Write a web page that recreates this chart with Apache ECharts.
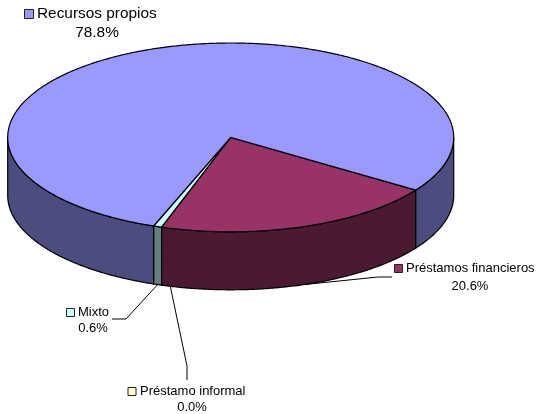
<!DOCTYPE html>
<html><head><meta charset="utf-8">
<style>html,body{margin:0;padding:0;background:#fff}#c{width:537px;height:414px}</style>
<script src="https://cdn.jsdelivr.net/npm/echarts@6/dist/echarts.min.js"></script>
</head><body><div id="c"></div>
<script>
// Data (slices in clockwise drawing order)
var categories = ['Préstamos financieros', 'Préstamo informal', 'Mixto', 'Recursos propios'];
var values = [20.6, 0.0, 0.6, 78.8];
var valueLabels = ['20.6%', '0.0%', '0.6%', '78.8%'];

// Styles and layout
var topColors = ['#993366', '#FFFFCC', '#CCFFFF', '#9999FF'];
var sideColors = ['#4C1933', '#80805F', '#668080', '#4C4C7F'];
var PIE = {cx: 230.7, cy: 137.4, rx: 223, ry: 94.4, depth: 58, start: 33.9};
var FONT = 'Arial, "Liberation Sans", sans-serif';
var labelLayout = [
  {x: 470, y: 268.5, lh: 17.5, size: 13, keyX: 394, keyY: 264, key: 8, startDx: 0, leader: [[378, 277], [392, 277]], textX: 406},
  {x: 192, y: 391.5, lh: 16, size: 13, keyX: 127.5, keyY: 387, key: 8, startDx: 8.5, leader: [[187, 366], [187, 380]], textX: 140},
  {x: 93, y: 312, lh: 16, size: 13, keyX: 66, keyY: 308, key: 8, startDx: 0, leader: [[126, 319], [112, 319]], textX: 78},
  {x: 97, y: 14, lh: 19, size: 15.4, keyX: 24, keyY: 9, key: 9, startDx: 0, leader: null, textX: 37}
];

var total = values.reduce(function (a, b) { return a + b; }, 0);
var spans = [];
(function () {
  var a = PIE.start;
  values.forEach(function (v) {
    var s = v / total * 360;
    spans.push([a, a + s]);
    a += s;
  });
})();

function pt(deg, dy) {
  var r = deg * Math.PI / 180;
  return [PIE.cx + PIE.rx * Math.cos(r), PIE.cy + PIE.ry * Math.sin(r) + (dy || 0)];
}
function arc(a0, a1, dy) {
  var out = [], n = Math.max(1, Math.ceil((a1 - a0) / 0.5));
  for (var i = 0; i <= n; i++) out.push(pt(a0 + (a1 - a0) * i / n, dy));
  return out;
}
function lineStyle() { return {stroke: '#000', lineWidth: 1.2}; }

function renderSide(params, api) {
  var i = api.value(0), sp = spans[i], kids = [];
  [[0, 180], [360, 540]].forEach(function (w) {
    var a0 = Math.max(sp[0], w[0]), a1 = Math.min(sp[1], w[1]);
    if (a1 > a0) {
      var pts = arc(a0, a1, 0).concat(arc(a0, a1, PIE.depth).reverse());
      kids.push({type: 'polygon', shape: {points: pts},
        style: Object.assign({fill: sideColors[i]}, lineStyle())});
    }
  });
  return {type: 'group', children: kids};
}
function renderTop(params, api) {
  var i = api.value(0), sp = spans[i];
  var pts = [[PIE.cx, PIE.cy]].concat(arc(sp[0], sp[1], 0));
  return {type: 'polygon', shape: {points: pts},
    style: Object.assign({fill: topColors[i]}, lineStyle())};
}
function renderLabel(params, api) {
  var i = api.value(0), L = labelLayout[i], kids = [];
  kids.push({type: 'rect', shape: {x: L.keyX + 0.5, y: L.keyY + 0.5, width: L.key, height: L.key},
    style: {fill: topColors[i], stroke: '#222', lineWidth: 1}});
  kids.push({type: 'text', style: {x: L.textX, y: L.y, text: categories[i], fill: '#000',
    font: L.size + 'px ' + FONT, textAlign: 'left', textVerticalAlign: 'middle'}});
  kids.push({type: 'text', style: {x: L.x, y: L.y + L.lh, text: valueLabels[i], fill: '#000',
    font: L.size + 'px ' + FONT, textAlign: 'center', textVerticalAlign: 'middle'}});
  if (L.leader) {
    var m = (spans[i][0] + spans[i][1]) / 2, s = pt(m, PIE.depth);
    s[0] += L.startDx;
    kids.push({type: 'polyline', shape: {points: [s].concat(L.leader)},
      style: {stroke: '#000', lineWidth: 1, fill: null}});
  }
  return {type: 'group', children: kids};
}

var idx = categories.map(function (c, i) { return [i]; });
var chart = echarts.init(document.getElementById('c'), null, {renderer: 'canvas'});
chart.setOption({
  animation: false,
  backgroundColor: '#fff',
  series: [
    {type: 'custom', coordinateSystem: 'none', data: idx, renderItem: renderSide, z: 1, silent: true},
    {type: 'custom', coordinateSystem: 'none', data: idx, renderItem: renderTop, z: 2, silent: true},
    {type: 'custom', coordinateSystem: 'none', data: idx, renderItem: renderLabel, z: 3, silent: true}
  ]
});
</script></body></html>
